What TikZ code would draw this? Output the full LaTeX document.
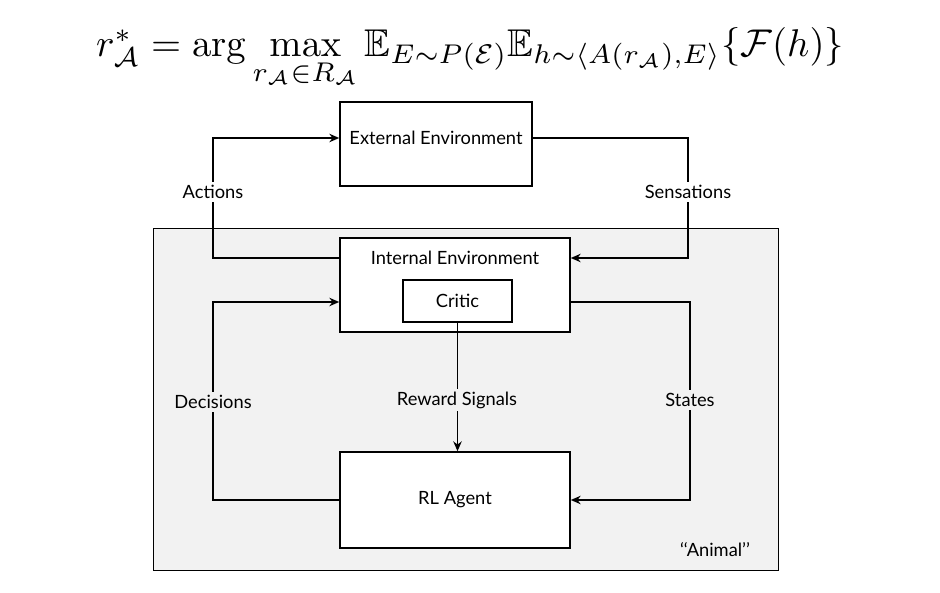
\documentclass[tikz,border=0pt]{standalone}
\usepackage{amsmath,amssymb}
\usepackage[no-math]{fontspec}
\setmainfont{Lato}
\usetikzlibrary{positioning,arrows.meta}
\begin{document}
\begin{tikzpicture}[x=0.025cm,y=-0.025cm,
	box/.style={draw, line width=1.1pt, rectangle, inner sep=0pt, fill=white},
	lbl/.style={fill=#1, inner sep=2pt, font=\fontsize{13}{15}\selectfont},
	lbl/.default=white,
	connect/.style={->, line width=1.1pt, >={Stealth[length=7pt,width=6pt]}},
	]
	\useasboundingbox (0,0) rectangle (940,592);

	%-----------------------
	% Objective
	%-----------------------
	\node[scale=2.75] (eq) at (470,58) {
		$r^*_{\mathcal{A}} = \arg\max\limits_{r_{\mathcal{A}}\in R_{\mathcal{A}}} \mathbb{E}_{E\sim P(\mathcal{E})}\mathbb{E}_{h\sim\langle A(r_{\mathcal{A}}),E\rangle}\{\mathcal{F}(h)\}$};

	%-----------------------
	% Animal region
	%-----------------------
	\node[draw, fill=black!5, inner sep=0pt, minimum width=15.625cm, minimum height=8.55cm] (animal)
		at (465.5,399) {};
	\node[lbl=black!5] (animaltxt) at (715,550) {{`}{`}Animal{'}{'}};

	%-----------------------
	% Boxes
	%-----------------------
	\node[box, minimum width=4.8cm, minimum height=2.1cm] (ext) at (436,144) {};
	\node[lbl, fill=none] at (436,138) {External Environment};
	\node[box, minimum width=5.75cm, minimum height=2.35cm] (int) at (455,285) {};
	\node[lbl, fill=none] at (455,258) {Internal Environment};
	\node[box, minimum width=2.72cm, minimum height=1.05cm] (critic) at (457.5,301) {};
	\node[lbl, fill=none] at (457.5,301) {Critic};
	\node[box, minimum width=5.75cm, minimum height=2.4cm] (agent) at (455,500) {};
	\node[lbl, fill=none] at (455,500) {RL Agent};

	%-----------------------
	% Corner coordinates
	%-----------------------
	\coordinate (a1) at (213,258);
	\coordinate (a2) at (213,138);
	\coordinate (s1) at (688,138);
	\coordinate (s2) at (688,258);
	\coordinate (d1) at (213,500);
	\coordinate (d2) at (213,302);
	\coordinate (t1) at (690,302);
	\coordinate (t2) at (690,500);

	%-----------------------
	% Connections
	%-----------------------
	\draw[connect] (int.west |- a1) -- (a1) -- (a2) -- (ext.west |- a2);
	\draw[connect] (ext.east |- s1) -- (s1) -- (s2) -- (int.east |- s2);
	\draw[connect] (agent.west |- d1) -- (d1) -- (d2) -- (int.west |- d2);
	\draw[connect] (int.east |- t1) -- (t1) -- (t2) -- (agent.east |- t2);
	\draw[connect] (critic.south) -- (agent.north -| critic.south);

	% Labels
	\node[lbl] at (213,192) {Actions};
	\node[lbl] at (688,192) {Sensations};
	\node[lbl=black!5] at (213,402) {Decisions};
	\node[lbl=black!5] at (457,400) {Reward Signals};
	\node[lbl=black!5] at (690,400) {States};
\end{tikzpicture}
\end{document}
